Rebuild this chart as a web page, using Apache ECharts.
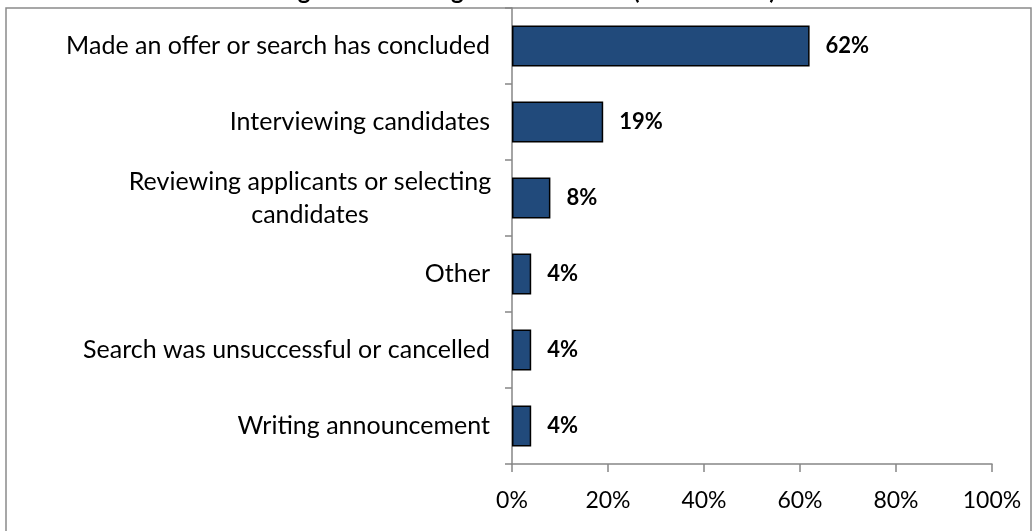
<!DOCTYPE html>
<html>
<head>
<meta charset="utf-8">
<script src="https://cdn.jsdelivr.net/npm/echarts@6/dist/echarts.min.js"></script>
<style>
  html, body { margin: 0; padding: 0; background: #fff; }
  #main { width: 1032px; height: 531px; }
</style>
</head>
<body>
<div id="main"></div>
<script>
// stages of the hiring search, top to bottom
var categories = [
    'Made an offer or search has concluded',
    'Interviewing candidates',
    'Reviewing applicants or selecting candidates',
    'Other',
    'Search was unsuccessful or cancelled',
    'Writing announcement'
];
var percents = [62, 19, 8, 4, 4, 4];
var tickLabels = ['0%', '20%', '40%', '60%', '80%', '100%'];

chart_1();
function chart_1() {
    var dom = document.getElementById('main');
    var myChart = echarts.init(dom, null, { renderer: 'canvas' });
    var font = 'Lato, "Open Sans", sans-serif';
    var axisGray = '#868686';

    var option = {
        animation: false,
        backgroundColor: '#fff',
        textStyle: { fontFamily: font },
        graphic: [
            {
                type: 'rect',
                shape: { x: 6, y: 8, width: 1025, height: 560 },
                style: { fill: 'none', stroke: '#8a8a8a', lineWidth: 1.5 },
                z: 0
            },
            {
                // title is cut off at the top edge, only the descenders show
                type: 'text',
                x: 520,
                y: 3,
                style: {
                    text: 'Stage of the Hiring Search to Date (March 2013)',
                    font: 'bold 24px ' + font,
                    fill: '#000',
                    align: 'center',
                    verticalAlign: 'bottom'
                }
            }
        ],
        grid: { left: 512, right: 40, top: 8, bottom: 67 },
        xAxis: {
            type: 'value',
            min: 0,
            max: 100,
            interval: 20,
            axisLine: { show: true, lineStyle: { color: axisGray, width: 1.5 } },
            axisTick: { show: true, length: 8, lineStyle: { color: axisGray, width: 1.5 } },
            splitLine: { show: false },
            axisLabel: {
                margin: 25,
                fontSize: 23,
                color: '#000',
                fontFamily: font,
                formatter: function (v) { return tickLabels[v / 20]; }
            }
        },
        yAxis: {
            type: 'category',
            inverse: true,
            data: categories,
            axisLine: { show: true, lineStyle: { color: axisGray, width: 1.5 } },
            axisTick: { show: true, length: 7, lineStyle: { color: axisGray, width: 1.5 } },
            axisLabel: {
                margin: 22,
                fontSize: 25,
                color: '#000',
                fontFamily: font,
                formatter: function (v) {
                    if (v.indexOf('Reviewing') === 0) {
                        return '{c|Reviewing applicants or selecting}\n{c|candidates}';
                    }
                    return v;
                },
                rich: {
                    c: { width: 360, align: 'center', fontSize: 25, lineHeight: 33, fontFamily: font, color: '#000' }
                }
            }
        },
        series: [
            {
                type: 'bar',
                data: percents,
                barWidth: 41,
                itemStyle: { color: '#214a7b', borderColor: '#000', borderWidth: 1.5 },
                label: {
                    show: true,
                    position: 'right',
                    distance: 16,
                    fontSize: 22,
                    fontWeight: 'bold',
                    color: '#000',
                    fontFamily: font,
                    formatter: '{c}%'
                }
            }
        ]
    };

    myChart.setOption(option);
    window.addEventListener('resize', myChart.resize);
}
</script>
</body>
</html>
